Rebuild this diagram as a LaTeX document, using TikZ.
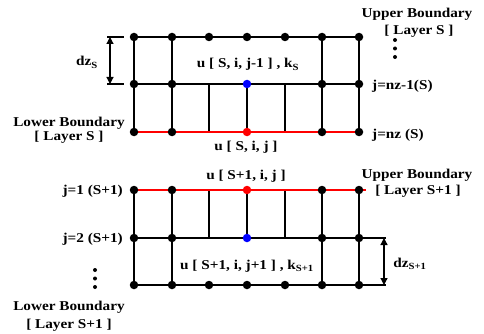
\documentclass[tikz,border=0pt]{standalone}
\usepackage{fontspec}
\setmainfont{Liberation Serif}[FakeStretch=1.13]
\usetikzlibrary{arrows.meta}
\begin{document}
\begin{tikzpicture}[x=1pt,y=-1pt,
  grid/.style={line width=1.4pt,black},
  redline/.style={line width=2pt,red},
  dot/.style={circle,fill=black,inner sep=0pt,minimum size=8.5pt},
  bdot/.style={circle,fill=blue,inner sep=0pt,minimum size=8.5pt},
  rdot/.style={circle,fill=red,inner sep=0pt,minimum size=8.5pt},
  smalldot/.style={circle,fill=black,inner sep=0pt,minimum size=4pt},
  lbl/.style={inner sep=0pt,anchor=base,font=\fontsize{13.5}{16}\selectfont\bfseries},
  tick/.style={line width=1.2pt,black},
  dimarrow/.style={line width=1.2pt,black,{Triangle[length=7pt,width=7pt]}-{Triangle[length=7pt,width=7pt]}}
]
\useasboundingbox (0,0) rectangle (484,334);
% coordinates
\foreach \r/\y in {a/37,b/84,c/132,d/190,e/238,f/285}{
  \foreach \i/\x in {1/134,2/172,3/209,4/247,5/285,6/322,7/359}{
    \coordinate (\r-\i) at (\x,\y);
  }
}
\coordinate (dEnd) at (366,190);
% upper grid
\draw[grid] (a-1) -- (a-7);
\draw[grid] (b-1) -- (b-7);
\foreach \i in {1,2,6,7}{\draw[grid] (a-\i) -- (c-\i);}
\foreach \i in {3,4,5}{\draw[grid] (b-\i) -- (c-\i);}
\draw[redline] (c-1) -- (c-7);
% lower grid
\draw[grid] (e-1) -- (e-7);
\draw[grid] (f-1) -- (f-7);
\foreach \i in {1,2,6,7}{\draw[grid] (d-\i) -- (f-\i);}
\foreach \i in {3,4,5}{\draw[grid] (d-\i) -- (e-\i);}
\draw[redline] (d-1) -- (dEnd);
% dots
\foreach \i in {1,...,7}{\node[dot] (na-\i) at (a-\i) {}; \node[dot] (nf-\i) at (f-\i) {};}
\foreach \r in {b,c,d,e}{\foreach \i in {1,2,6,7}{\node[dot] (n\r-\i) at (\r-\i) {};}}
\node[bdot] (nb-4) at (b-4) {};
\node[rdot] (nc-4) at (c-4) {};
\node[rdot] (nd-4) at (d-4) {};
\node[bdot] (ne-4) at (e-4) {};
% dz_S
\coordinate (t1l) at (107,37); \coordinate (t1r) at (124,37);
\coordinate (t2l) at (107,84); \coordinate (t2r) at (124,84);
\draw[tick] (t1l) -- (t1r);
\draw[tick] (t2l) -- (t2r);
\coordinate (aS1) at (110,37); \coordinate (aS2) at (110,84);
\draw[dimarrow] (aS1) -- (aS2);
\node[lbl] (dzS) at (87,66) {dz\textsubscript{S}};
% dz_S+1
\coordinate (t3l) at (363,238); \coordinate (t3r) at (386,238);
\coordinate (t4l) at (363,285); \coordinate (t4r) at (386,285);
\draw[tick] (t3l) -- (t3r);
\draw[tick] (t4l) -- (t4r);
\coordinate (aT1) at (384,238); \coordinate (aT2) at (384,285);
\draw[dimarrow] (aT1) -- (aT2);
\node[lbl] (dzS1) at (410,267) {dz\textsubscript{S+1}};
% labels upper
\node[lbl] (ub1) at (417,18) {Upper Boundary};
\node[lbl] (ub2) at (419,35) {[ Layer S ]};
\node[smalldot] (v1) at (395,40) {};
\node[smalldot] (v2) at (395,48.5) {};
\node[smalldot] (v3) at (395,57) {};
\node[lbl,anchor=base west] (jnz1) at (372,89.5) {j=nz-1(S)};
\node[lbl,anchor=base west] (jnz) at (372,138) {j=nz (S)};
\node[lbl] (uk1) at (248,68) {u [ S, i, j-1 ] , k\textsubscript{S}};
\node[lbl] (us) at (246,150) {u [ S, i, j ]};
\node[lbl] (lb1) at (69,127) {Lower Boundary};
\node[lbl] (lb2) at (69,140.5) {[ Layer S ]};
% labels lower
\node[lbl] (us1) at (246,179) {u [ S+1, i, j ]};
\node[lbl] (ub3) at (417,178) {Upper Boundary};
\node[lbl] (ub4) at (418,194.5) {[ Layer S+1 ]};
\node[lbl,anchor=base east] (j1) at (123,194.5) {j=1 (S+1)};
\node[lbl,anchor=base east] (j2) at (123,242) {j=2 (S+1)};
\node[lbl] (uk2) at (247,269) {u [ S+1, i, j+1 ] , k\textsubscript{S+1}};
\node[smalldot] (w1) at (95,270) {};
\node[smalldot] (w2) at (95,278.5) {};
\node[smalldot] (w3) at (95,287) {};
\node[lbl] (lb3) at (69,310.5) {Lower Boundary};
\node[lbl] (lb4) at (69,328) {[ Layer S+1 ]};
\end{tikzpicture}
\end{document}
